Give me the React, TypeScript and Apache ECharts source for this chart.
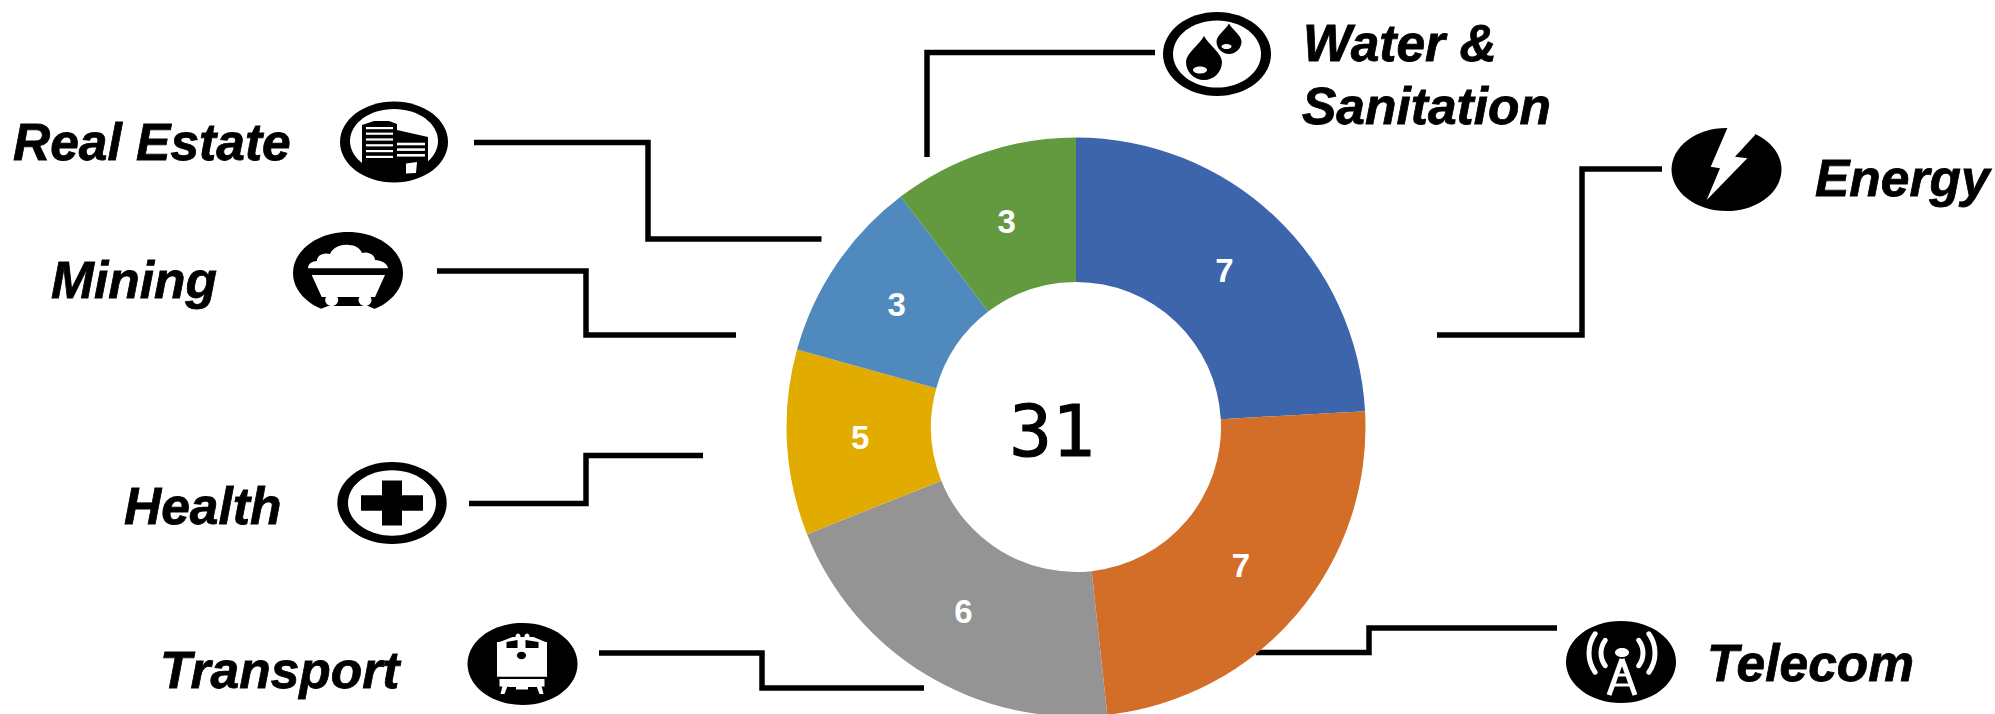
import React, { useEffect, useRef } from "react";
import * as echarts from "echarts";

const categories = ["Energy", "Telecom", "Transport", "Health", "Mining", "Water & Sanitation"];
const sliceValues = [7, 7, 6, 3, 3, 3];
const sliceLabels = ["7", "7", "6", "5", "3", "3"];
const sliceColors = ["#3C65AC", "#D36E29", "#949494", "#E1AB00", "#5089BD", "#639A3F"];
const centerTotal = "31";

const labelNudges = [[-3, 3], [-3, -4], [1, -4], [4, -1], [3, 1], [1, 3]];

const captions = [
  { text: "Real Estate", x: 13, y: 160 },
  { text: "Mining", x: 51, y: 298 },
  { text: "Health", x: 124, y: 524 },
  { text: "Transport", x: 160, y: 688 },
  { text: "Water &", x: 1303, y: 61 },
  { text: "Sanitation", x: 1302, y: 124 },
  { text: "Energy", x: 1815, y: 196 },
  { text: "Telecom", x: 1707, y: 681 },
];

const connectors = [
  [[1155, 52.5], [927, 52.5], [927, 157]],
  [[474, 142.5], [648, 142.5], [648, 239], [821.5, 239]],
  [[437, 271], [586, 271], [586, 335], [736, 335]],
  [[703, 455.5], [586, 455.5], [586, 503.5], [469, 503.5]],
  [[599, 653], [762, 653], [762, 688], [924, 688]],
  [[1437, 335], [1582, 335], [1582, 169], [1662, 169]],
  [[1256, 652.5], [1369, 652.5], [1369, 628], [1557, 628]],
];

echarts.graphic.registerShape(
  "drop",
  echarts.graphic.extendPath(
    "M0,-1.45 C0.25,-0.95 1,-0.5 1,0 C1,0.55 0.55,1 0,1 C-0.55,1 -1,0.55 -1,0 C-1,-0.5 -0.25,-0.95 0,-1.45Z",
    {}
  )
);
echarts.graphic.registerShape(
  "coal",
  echarts.graphic.extendPath(
    "M-40,-4.7 C-40,-9 -36,-12 -31,-12 C-31,-18 -24,-21 -18,-19 C-15,-26 -6,-29 1,-28 C7,-28 12,-25 14,-20 C20,-22 27,-18 27,-13 C33,-13 40,-9 40,-4.7Z",
    {}
  )
);

const K = "#000";
const W = "#fff";
const el = (cx: number, cy: number, rx: number, ry: number, fill: string) => ({
  type: "ellipse",
  shape: { cx, cy, rx, ry },
  style: { fill },
});
const rc = (x: number, y: number, width: number, height: number, fill: string) => ({
  type: "rect",
  shape: { x, y, width, height },
  style: { fill },
});
const pg = (points: number[][], fill: string) => ({
  type: "polygon",
  shape: { points },
  style: { fill },
});
const ln = (x1: number, y1: number, x2: number, y2: number, w: number) => ({
  type: "line",
  shape: { x1, y1, x2, y2 },
  style: { stroke: W, lineWidth: w },
});
const arc = (cx: number, cy: number, r: number, a: number, b: number) => ({
  type: "arc",
  shape: { cx, cy, r, startAngle: a, endAngle: b, clockwise: true },
  style: { stroke: W, lineWidth: 5, fill: "none", lineCap: "round" },
});

function iconGroup(x: number, y: number, children: any[]) {
  return { type: "group", x, y, children };
}

const windowRows = [-15, -9.4, -3.6, 2.2, 8, 13.8];
const wingRows = [0.7, 6.3, 12];

const icons = [
  iconGroup(394, 142, [
    el(0, 0, 54, 40.5, K),
    el(0, -1, 44, 32, W),
    pg([[-32, -17], [-20, -21], [-5, -21], [3, -18], [3, -12], [34, -5], [34, 27], [20, 34], [-20, 34], [-32, 26]], K),
    ...windowRows.map((r) => rc(-28, r, 27, 2.2, W)),
    ...wingRows.map((r) => rc(3, r, 28, 2.6, W)),
    pg([[12, 21.5], [23, 20], [22, 31], [12, 31.5]], W),
  ]),
  iconGroup(348, 273, [
    el(0, 0, 55, 41, K),
    { type: "coal", style: { fill: W } },
    pg([[-36.3, 2], [37, 2], [27, 24], [-26.3, 24]], W),
    el(-16.3, 27, 6.5, 6, W),
    el(17, 27, 6.5, 6, W),
    pg([[-30, 37], [-20, 33], [20, 33], [29, 37]], W),
    rc(-60, 37, 120, 8, W),
  ]),
  iconGroup(392, 503, [
    el(0, 0, 54.7, 41, K),
    el(0, 0, 44, 32.7, W),
    rc(-10, -22.5, 20, 45, K),
    rc(-31, -7.7, 62, 15.4, K),
  ]),
  iconGroup(522.5, 664, [
    el(0, 0, 55, 41, K),
    rc(-25.5, -22, 50, 34.7, W),
    pg([[-23, -22], [-10, -27], [11, -27], [23, -22]], W),
    el(-4.5, -27.5, 2.5, 3, W),
    el(4.5, -27.5, 2.5, 3, W),
    pg([[-16, -22], [-5, -24], [-5, -16], [-16, -16]], K),
    pg([[3, -24], [16, -22], [16, -16], [3, -16]], K),
    el(-1, -8.5, 4.6, 3.7, K),
    rc(-23, 15, 45, 7.5, W),
    pg([[-20, 22], [-15, 22], [-18, 30], [-22, 30]], W),
    pg([[14, 22], [19, 22], [21, 30], [17, 30]], W),
    pg([[-15, 21], [14, 21], [15, 23], [-14, 23]], W),
    rc(-6.5, 22.5, 12, 3, W),
  ]),
  iconGroup(1217, 54, [
    el(0, 0, 54, 42, K),
    el(0, 0, 44, 33.6, W),
    { type: "drop", x: -13, y: 8, scaleX: 18, scaleY: 18, style: { fill: K } },
    { type: "drop", x: 12, y: -12.5, scaleX: 12.5, scaleY: 12.5, style: { fill: K } },
    el(-17, 16, 7, 3.5, W),
    el(9.5, -7.5, 5, 2.6, W),
  ]),
  iconGroup(1726.5, 169.5, [
    el(0, 0, 55, 41.5, K),
    pg([[0.8, -46], [0.8, -41.2], [-15.8, -2.8], [-6.5, -1.2], [-19.8, 30.5], [20.8, -11.2], [8.5, -12.8], [28.5, -34.5], [28.5, -46]], W),
  ]),
  iconGroup(1621, 662, [
    el(0, 0, 55, 41, K),
    arc(1, -9, 21, -0.65, 0.65),
    arc(1, -9, 21, Math.PI - 0.65, Math.PI + 0.65),
    arc(1, -9, 33, -0.62, 0.62),
    arc(1, -9, 33, Math.PI - 0.62, Math.PI + 0.62),
    el(1, -9.5, 7, 4.5, W),
    ln(1, -3, -12, 33, 5),
    ln(1, -3, 14, 33, 5),
    ln(-5, 13, 7, 13, 3),
    ln(-8, 23, 10, 23, 3),
  ]),
];

export default function App() {
  const ref = useRef<HTMLDivElement>(null);
  useEffect(() => {
    document.body.style.margin = "0";
    const chart = echarts.init(ref.current!, null, { renderer: "svg" });
    chart.setOption({
      animation: false,
      backgroundColor: "#fff",
      series: [
        {
          type: "pie",
          center: [1076, 427],
          radius: [145, 289.5],
          startAngle: 90,
          clockwise: true,
          silent: true,
          itemStyle: { borderWidth: 0 },
          labelLine: { show: false },
          label: {
            show: true,
            position: "inside",
            color: "#fff",
            fontFamily: "Liberation Sans",
            fontWeight: "bold",
            fontSize: 33,
            formatter: (p: any) => sliceLabels[p.dataIndex],
          },
          data: categories.map((name, i) => ({
            name,
            value: sliceValues[i],
            itemStyle: { color: sliceColors[i] },
            label: { offset: labelNudges[i] },
          })),
        },
      ],
      graphic: {
        elements: [
          {
            type: "text",
            x: 1052,
            y: 431,
            style: {
              text: centerTotal,
              fill: "#000",
              stroke: "#000",
              lineWidth: 1.2,
              font: "71px 'DejaVu Sans Mono'",
              align: "center",
              verticalAlign: "middle",
            },
          },
          ...connectors.map((points) => ({
            type: "polyline",
            shape: { points },
            style: { stroke: K, lineWidth: 5.5, fill: "none", lineJoin: "miter" },
          })),
          ...captions.map((c) => ({
            type: "text",
            x: c.x,
            y: c.y - 18,
            style: {
              text: c.text,
              fill: "#000",
              stroke: "#000",
              lineWidth: 0.8,
              font: "italic bold 51.5px 'Liberation Sans'",
              align: "left",
              verticalAlign: "middle",
            },
          })),
          ...icons,
        ],
      },
    });
    return () => chart.dispose();
  }, []);
  return <div ref={ref} style={{ width: 1995, height: 714 }} />;
}
